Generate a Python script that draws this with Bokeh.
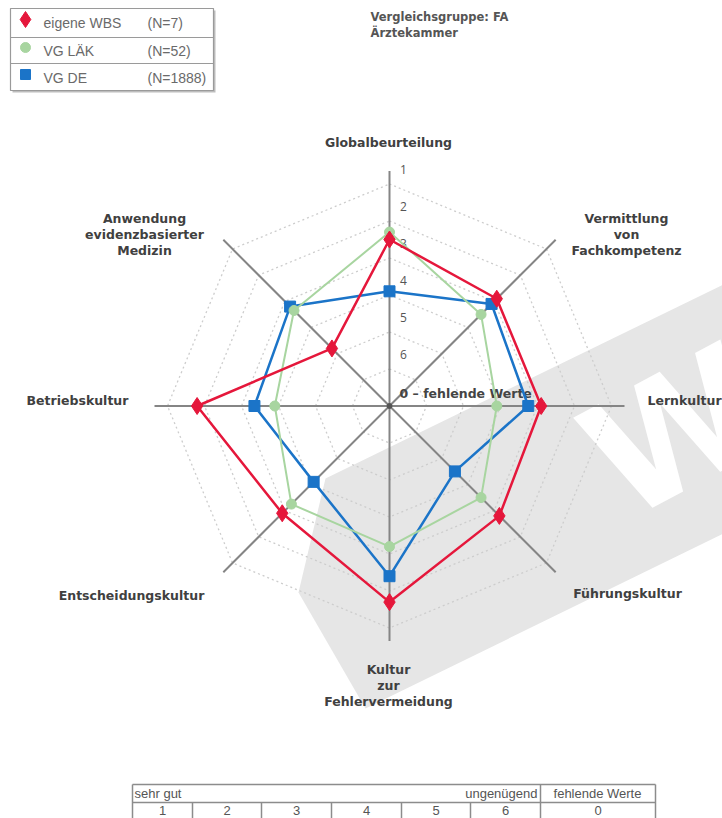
import numpy as np
from bokeh.plotting import figure
from bokeh.models import Range1d
from bokeh.core.properties import value
from bokeh.embed import file_html
from bokeh.resources import INLINE

# ---------------- data ----------------
categories = [
    "Globalbeurteilung",
    "Vermittlung\nvon\nFachkompetenz",
    "Lernkultur",
    "Führungskultur",
    "Kultur\nzur\nFehlervermeidung",
    "Entscheidungskultur",
    "Betriebskultur",
    "Anwendung\nevidenzbasierter\nMedizin",
]
eigene_wbs = [2.5, 2.9, 2.9, 2.8, 1.7, 2.9, 1.8, 4.8]
vg_laek = [2.3, 3.5, 4.1, 3.5, 3.2, 3.25, 3.9, 3.35]
vg_de = [3.9, 3.1, 3.25, 4.5, 2.4, 4.1, 3.35, 3.2]
series_names = ["eigene WBS", "VG LÄK", "VG DE"]
series_counts = ["(N=7)", "(N=52)", "(N=1888)"]
ring_values = [1, 2, 3, 4, 5, 6]
ring_labels = ["1", "2", "3", "4", "5", "6"]
missing_label = "0 \u2013 fehlende Werte"
header_lines = ["Vergleichsgruppe: FA", "Ärztekammer"]
table_top = ["sehr gut", "ungenügend", "fehlende Werte"]
table_values = ["1", "2", "3", "4", "5", "6", "0"]

# ---------------- layout ----------------
W, H = 722, 818
OFF = 0             # page offset of the figure
S = 37.0            # pixels per scale step
CX, CY = 389.0, 405.5
MAXV = 7.0
LABEL_FONT = value("DejaVu Sans")


def X(px):
    return (px - CX) / S


def Y(py):
    return (CY - py) / S


def rad(v):
    v = np.asarray(v, dtype=float)
    return np.where(v > 0, MAXV - v, 0.0)


axis_deg = np.array([90, 45, 0, -45, -90, -135, 180, 135], dtype=float)
th = np.deg2rad(axis_deg)

p = figure(width=W, height=H, x_range=Range1d(X(OFF), X(OFF + W)),
           y_range=Range1d(Y(OFF + H), Y(OFF)), output_backend="svg",
           toolbar_location=None, min_border=0)
p.axis.visible = False
p.grid.visible = False
p.outline_line_color = None
p.background_fill_color = "white"
p.border_fill_color = "white"

# watermark band
band_px = [(325, 478), (760, 266), (760, 515), (365, 708), (298, 592)]
p.patch([X(a) for a, b in band_px], [Y(b) for a, b in band_px],
        fill_color="#e6e6e6", line_color=None)
p.text(x=[X(675)], y=[Y(432)], text=["W"], angle=np.deg2rad(28),
       text_font=value("DejaVu Sans"), text_font_style="bold",
       text_font_size="160px", text_color="white",
       text_align="center", text_baseline="middle")

# rings
for rv in ring_values:
    r = MAXV - rv
    xs = list(r * np.cos(th)) + [r * np.cos(th[0])]
    ys = list(r * np.sin(th)) + [r * np.sin(th[0])]
    p.line(xs, ys, line_color="#cdcdcd", line_width=1.3, line_dash="2 3")

# axes
RAX = 235.0 / S
p.segment(x0=np.zeros(8), y0=np.zeros(8), x1=RAX * np.cos(th), y1=RAX * np.sin(th),
          line_color="#858585", line_width=2)
p.scatter([0], [0], size=5, color="#555555")

# ring labels
p.text(x=[14 / S] * len(ring_values), y=[MAXV - v + 0.40 for v in ring_values],
       text=ring_labels, text_font=value("Open Sans"), text_font_size="12px",
       text_color="#555555", text_align="center", text_baseline="middle")
p.text(x=[X(399)], y=[Y(393)], text=[missing_label], text_font=LABEL_FONT,
       text_font_style="bold", text_font_size="12.5px", text_color="#444444",
       text_align="left", text_baseline="middle")

# series
def draw(vals, color, marker, size, lw):
    r = rad(vals)
    xs = r * np.cos(th)
    ys = r * np.sin(th)
    p.line(list(xs) + [xs[0]], list(ys) + [ys[0]], line_color=color, line_width=lw)
    p.scatter(xs, ys, marker=marker, size=size, fill_color=color, line_color=color)

RED, GREEN, BLUE = "#e5173b", "#a8d5a0", "#1b74c8"
draw(vg_de, BLUE, "square", 11, 2.5)
draw(vg_laek, GREEN, "circle", 10, 2)
draw(eigene_wbs, RED, "diamond", 17, 2.5)

# category labels (pixel anchors per axis)
label_pos = [(388, 142, "center"), (626, 218, "center"), (647, 400, "left"),
             (627, 593, "center"), (388, 669, "center"), (131, 595, "center"),
             (77, 400, "center"), (144, 218, "center")]
for cat, (lx, ly, al) in zip(categories, label_pos):
    for i, line in enumerate(cat.split("\n")):
        p.text(x=[X(lx)], y=[Y(ly + 16 * i)], text=[line], text_font=LABEL_FONT,
               text_font_style="bold", text_font_size="12.5px", text_color="#404040",
               text_align=al, text_baseline="middle")

# header
for i, line in enumerate(header_lines):
    p.text(x=[X(370)], y=[Y(16 + 16 * i)], text=[line], text_font=LABEL_FONT,
           text_font_style="bold", text_font_size="11.5px", text_color="#555555",
           text_align="left", text_baseline="middle")

# legend box
p.quad(left=[X(12)], right=[X(215)], top=[Y(10)], bottom=[Y(92)],
       fill_color="#bdbdbd", line_color=None)
p.quad(left=[X(10)], right=[X(213)], top=[Y(8)], bottom=[Y(90)],
       fill_color="white", line_color="#9a9a9a", line_width=1.2)
p.segment(x0=[X(10), X(10)], y0=[Y(37), Y(63)], x1=[X(213), X(213)], y1=[Y(37), Y(63)],
          line_color="#9a9a9a", line_width=1.2)
leg_y = [22, 50, 77]
leg_marker = [("diamond", RED, 16), ("circle", GREEN, 10), ("square", BLUE, 10)]
for (mk, col, sz), ly, nm, cnt in zip(leg_marker, leg_y, series_names, series_counts):
    p.scatter([X(25)], [Y(ly - 3)], marker=mk, size=sz, fill_color=col, line_color=col)
    p.text(x=[X(43)], y=[Y(ly)], text=[nm], text_font=value("Liberation Sans"),
           text_font_size="14px", text_color="#6a6a6a", text_baseline="middle")
    p.text(x=[X(147)], y=[Y(ly)], text=[cnt], text_font=value("Liberation Sans"),
           text_font_size="14px", text_color="#6a6a6a", text_baseline="middle")

# bottom table
t_left, t_right, t_top, t_mid, t_bot = 132, 655, 784, 802, 830
edges = [132, 192, 261, 331, 401, 470, 540, 655]
p.segment(x0=[X(t_left), X(t_left)], y0=[Y(t_top), Y(t_mid)],
          x1=[X(t_right), X(t_right)], y1=[Y(t_top), Y(t_mid)],
          line_color="#8c8c8c", line_width=1.5)
p.segment(x0=[X(e) for e in edges[1:6]], y0=[Y(t_mid)] * 5,
          x1=[X(e) for e in edges[1:6]], y1=[Y(t_bot)] * 5,
          line_color="#8c8c8c", line_width=1.5)
p.segment(x0=[X(t_left), X(540), X(t_right)], y0=[Y(t_top)] * 3,
          x1=[X(t_left), X(540), X(t_right)], y1=[Y(t_bot)] * 3,
          line_color="#8c8c8c", line_width=1.5)
TF = value("Liberation Sans")
p.text(x=[X(134)], y=[Y(793)], text=[table_top[0]], text_font=TF,
       text_font_size="13px", text_color="#555555", text_baseline="middle")
p.text(x=[X(537)], y=[Y(793)], text=[table_top[1]], text_font=TF,
       text_font_size="13px", text_color="#555555", text_baseline="middle", text_align="right")
p.text(x=[X(597)], y=[Y(793)], text=[table_top[2]], text_font=TF,
       text_font_size="13px", text_color="#555555", text_baseline="middle", text_align="center")
centers = [(edges[i] + edges[i + 1]) / 2 for i in range(7)]
p.text(x=[X(c) for c in centers], y=[Y(810)] * 7, text=table_values,
       text_font=TF, text_font_size="13px", text_color="#555555",
       text_baseline="middle", text_align="center")

open("out.html", "w").write(file_html(p, INLINE))
